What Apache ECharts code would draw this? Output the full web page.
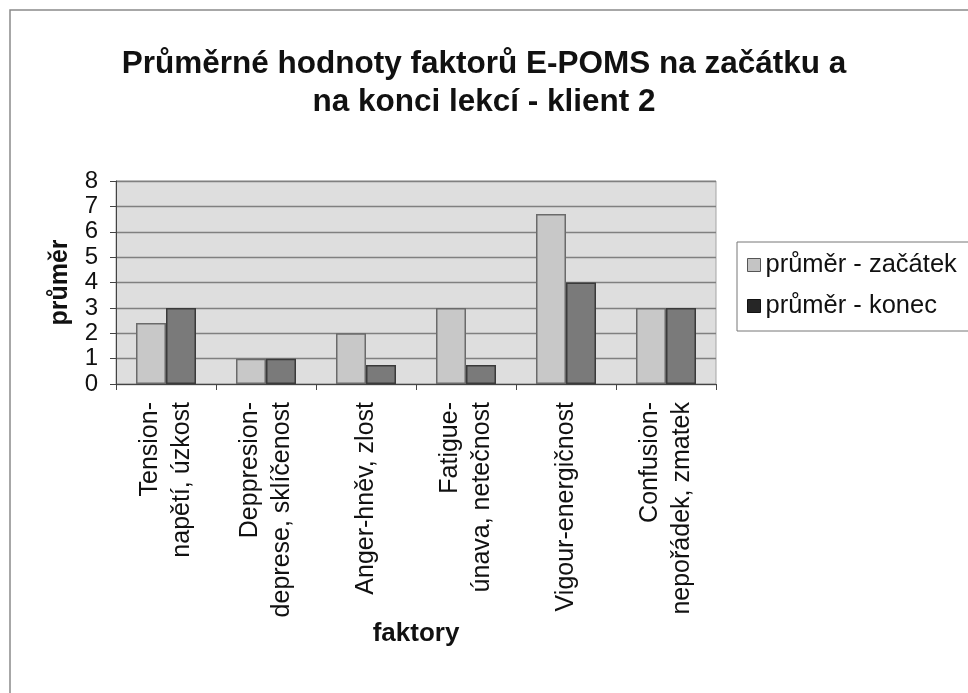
<!DOCTYPE html>
<html>
<head>
<meta charset="utf-8">
<script src="https://cdn.jsdelivr.net/npm/echarts@6/dist/echarts.min.js"></script>
<style>
    html, body { margin: 0; padding: 0; background: #fff; }
    #chart { width: 968px; height: 693px; }
</style>
</head>
<body>
<div id="chart"></div>
<script>
// data
var categories = [
    'Tension-\nnapětí, úzkost',
    'Deppresion-\ndeprese, sklíčenost',
    'Anger-hněv, zlost',
    'Fatigue-\núnava, netečnost',
    'Vigour-energičnost',
    'Confusion-\nnepořádek, zmatek'
];
var startValues = [2.4, 1, 2, 3, 6.7, 3];
var endValues = [3, 1, 0.75, 0.75, 4, 3];
var seriesNames = ['průměr - začátek', 'průměr - konec'];

var font = 'Liberation Sans, Arial, sans-serif';

var myChart = echarts.init(document.getElementById('chart'));
var option = {
    backgroundColor: '#fff',
    animation: false,
    textStyle: { fontFamily: font },
    title: {
        text: 'Průměrné hodnoty faktorů E-POMS na začátku a\nna konci lekcí - klient 2',
        left: 'center',
        top: 40,
        textStyle: {
            fontFamily: font,
            fontSize: 31.5,
            fontWeight: 'bold',
            lineHeight: 38,
            color: '#111'
        }
    },
    graphic: [{
        // outer chart frame
        type: 'rect',
        shape: { x: 10, y: 10, width: 1000, height: 720 },
        style: { fill: 'none', stroke: '#8a8a8a', lineWidth: 1.5 },
        silent: true
    }],
    legend: {
        orient: 'vertical',
        left: 737,
        top: 242,
        padding: [10, 40, 12, 10],
        itemGap: 15,
        itemWidth: 13,
        itemHeight: 13,
        icon: 'rect',
        borderColor: '#777',
        borderWidth: 1,
        textStyle: { fontFamily: font, fontSize: 25.5, color: '#111' },
        data: [
            { name: seriesNames[0], itemStyle: { color: '#c4c4c4', borderColor: '#555', borderWidth: 1 } },
            { name: seriesNames[1], itemStyle: { color: '#262626', borderColor: '#111', borderWidth: 1 } }
        ]
    },
    grid: {
        left: 116,
        right: 252,
        top: 181,
        bottom: 309,
        show: true,
        backgroundColor: '#dedede',
        borderColor: '#a5a5a5',
        borderWidth: 1
    },
    xAxis: [{
        type: 'category',
        data: categories,
        name: 'faktory',
        nameLocation: 'middle',
        nameGap: 227,
        nameTextStyle: { fontFamily: font, fontSize: 26, fontWeight: 'bold', color: '#111' },
        axisLine: { lineStyle: { color: '#444', width: 1 } },
        axisTick: { show: true, length: 6, lineStyle: { color: '#444' } },
        axisLabel: {
            rotate: 90,
            interval: 0,
            margin: 18,
            fontFamily: font,
            fontSize: 25,
            lineHeight: 32,
            color: '#111'
        }
    }],
    yAxis: [{
        type: 'value',
        min: 0,
        max: 8,
        interval: 1,
        name: 'průměr',
        nameLocation: 'middle',
        nameGap: 43,
        nameTextStyle: { fontFamily: font, fontSize: 25, fontWeight: 'bold', color: '#111' },
        axisLine: { show: true, lineStyle: { color: '#444', width: 1 } },
        axisTick: { show: true, length: 6, lineStyle: { color: '#444' } },
        axisLabel: { fontFamily: font, fontSize: 24, color: '#111', margin: 18 },
        splitLine: { show: true, lineStyle: { color: '#808080', width: 1.3 } }
    }],
    series: [{
        name: seriesNames[0],
        type: 'bar',
        barGap: 0,
        barCategoryGap: '40%',
        data: startValues,
        itemStyle: { color: '#c8c8c8', borderColor: '#6a6a6a', borderWidth: 1.5 }
    }, {
        name: seriesNames[1],
        type: 'bar',
        barGap: 0,
        barCategoryGap: '40%',
        data: endValues,
        itemStyle: { color: '#7a7a7a', borderColor: '#3a3a3a', borderWidth: 1.5 }
    }]
};
myChart.setOption(option);
</script>
</body>
</html>
